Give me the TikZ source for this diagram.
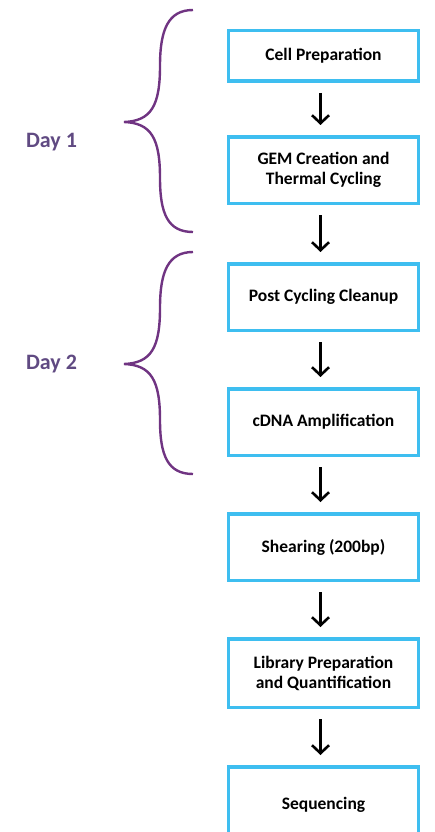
\documentclass[tikz,border=0pt]{standalone}
\usepackage{fontspec}
\setmainfont{Carlito}
\usetikzlibrary{arrows.meta, positioning}
\definecolor{rahmen}{RGB}{62,190,240}
\definecolor{klammer}{RGB}{112,52,130}
\definecolor{tag}{RGB}{96,74,130}
\newcommand{\daybrace}[1]{%
  \begin{scope}[yshift=#1]
    \draw[klammerlinie] (193,-10) .. controls (168,-10) and (160,-30) .. (160,-66)
      .. controls (160,-106) and (151,-121) .. (124,-122)
      .. controls (151,-123) and (160,-138) .. (160,-178)
      .. controls (160,-214) and (168,-232) .. (193,-232);
  \end{scope}}
\tikzset{
  box/.style={draw=rahmen, line width=3.5pt, align=center, minimum width=190pt,
    minimum height=66.5pt, font=\fontsize{17.5}{20}\selectfont\bfseries},
  pfeil/.style={-{Straight Barb[length=8pt, width=17pt]}, line width=2.6pt,
    shorten <=10pt, shorten >=10pt},
  klammerlinie/.style={draw=klammer, line width=2.4pt},
  daylabel/.style={text=tag, font=\fontsize{22}{24}\selectfont\bfseries},
}

\begin{document}
\begin{tikzpicture}[x=1pt, y=1pt, node distance=55pt]
    \useasboundingbox (0,0) rectangle (434,-832);

    \node[box, minimum height=50.5pt] (cell) at (323.5,-56) {Cell Preparation};
    \node[box, below=52pt of cell] (gem) {GEM Creation and\\Thermal Cycling};
    \node[box, below=57pt of gem] (post) {Post Cycling Cleanup};
    \node[box, below=of post] (cdna) {cDNA Amplification};
    \node[box, below=of cdna] (shear) {Shearing (200bp)};
    \node[box, below=of shear, minimum height=68.5pt] (lib) {Library Preparation\\and Quantification};
    \node[box, below=56pt of lib, minimum height=76.5pt] (seq) {Sequencing};

    \foreach \a/\b in {cell/gem, gem/post, post/cdna, cdna/shear, shear/lib, lib/seq}
      \draw[pfeil] ([xshift=-3pt]\a.south) -- ([xshift=-3pt]\b.north);

    % Tage
    \daybrace{0pt}
    \daybrace{-242pt}
    \node[daylabel] (day1) at (51.5,-142) {Day 1};
    \node[daylabel] (day2) at (51.5,-364) {Day 2};
  \end{tikzpicture}
\end{document}
